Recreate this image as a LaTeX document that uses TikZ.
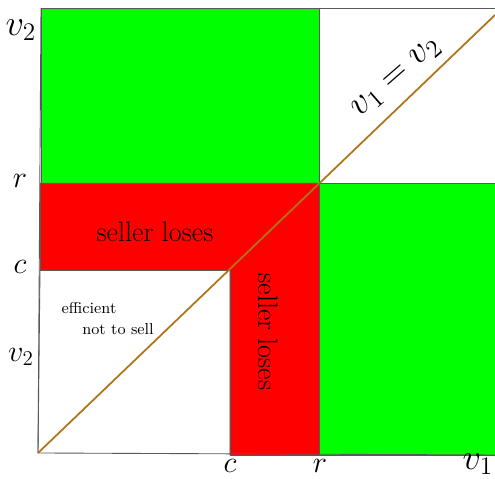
\documentclass[tikz,border=0pt]{standalone}
\definecolor{diagbrown}{RGB}{176,116,24}
\begin{document}
\begin{tikzpicture}[
    x=0.02cm, y=0.02cm,
    zone/.style={draw=gray!70!black, line width=0.5pt},
    win/.style={zone, fill=green},
    loss/.style={zone, fill=red},
    tick/.style={font=\LARGE},
    diag/.style={draw=diagbrown, line width=1pt}
]
    \useasboundingbox (0,0) rectangle (495,479);
    \coordinate (O) at (38,26);
    \coordinate (T) at (495,464);

    % regions
    \path[win] (41,296) rectangle (319,471);
    \path[win] (319,24) rectangle (495,296);
    \path[loss] (40,209) -- (230,209) -- (230,24) -- (319,24)
        -- (319,296) -- (40,296) -- cycle;
    \path[zone] (319,296) rectangle (495,471);
    \path[zone] (38,26) -- (40,209) -- (230,209) -- (230,24);

    % axes
    \draw[zone] (41,471) -- (38,26) -- (495,24);
    \draw[zone] (41,471) -- (495,471);

    \draw[diag] (O) -- (T);

    \node[font=\huge] (v2top) at (21,449) {$v_2$};
    \node[tick] (rl) at (20,298) {$r$};
    \node[tick] (cl) at (20,212) {$c$};
    \node[tick] (v2l) at (21,122) {$v_2$};
    \node[tick] (cb) at (230,13) {$c$};
    \node[tick] (rb) at (320,13) {$r$};
    \node[font=\huge] (v1b) at (478,15) {$v_1$};

    \node[font=\fontsize{16}{18}\selectfont] (losesA) at (155,247) {seller loses};
    \node[font=\fontsize{16}{18}\selectfont, rotate=-90] (losesB) at (268,147) {seller loses};
    \node[font=\small] (eff) at (89,171) {efficient};
    \node[font=\small] (nts) at (118,150) {not to sell};
    \node[font=\huge, rotate=41] (eq) at (397,401) {$v_1 = v_2$};
\end{tikzpicture}
\end{document}
